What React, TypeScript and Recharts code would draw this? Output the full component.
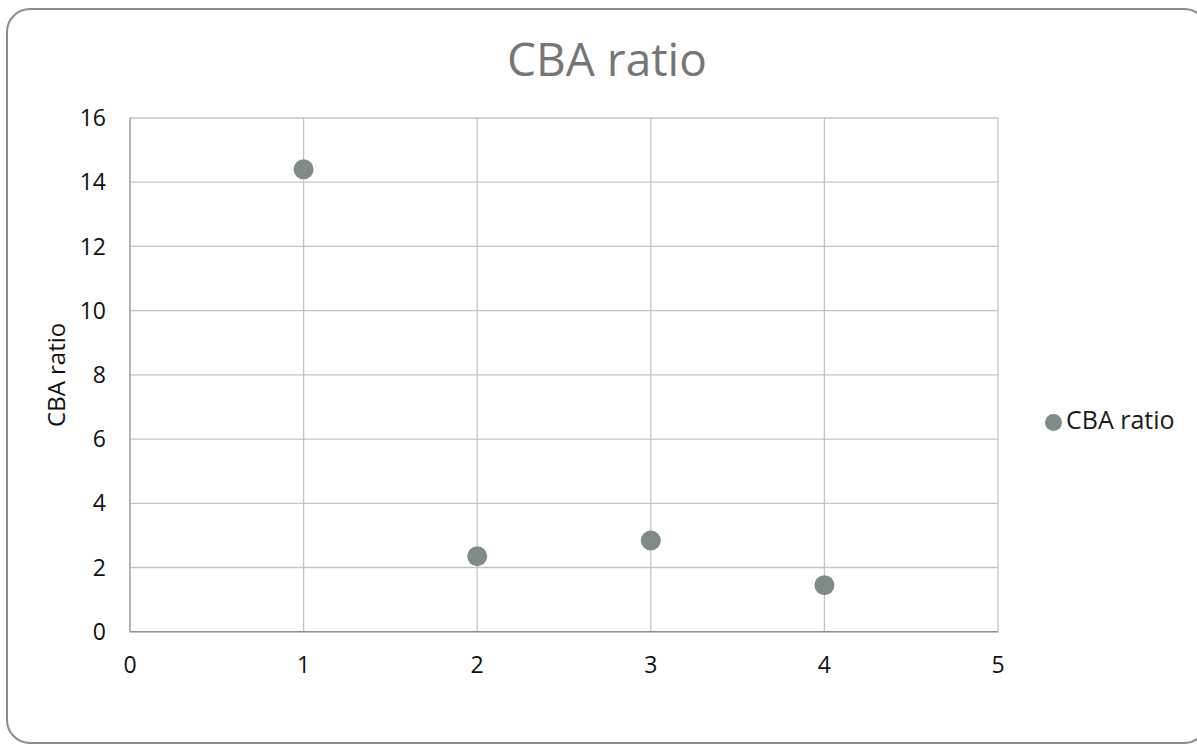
import React from "react";
import {
  ScatterChart,
  Scatter,
  XAxis,
  YAxis,
  CartesianGrid,
  Legend,
} from "recharts";

// CBA ratio per option
const optionIndex = [1, 2, 3, 4];
const cbaRatio = [14.4, 2.35, 2.84, 1.45];

const xTicks = [0, 1, 2, 3, 4, 5];
const yTicks = [0, 2, 4, 6, 8, 10, 12, 14, 16];

const seriesName = "CBA ratio";
const titleText = "CBA ratio";
const yAxisTitle = "CBA ratio";

const points = optionIndex.map((x, i) => ({ x, y: cbaRatio[i] }));

const FONT = "'Open Sans', sans-serif";
const MARKER = "#7F8B89";

const Dot = (props: any) => {
  const { cx, cy } = props;
  return <circle cx={cx} cy={cy} r={10} fill={MARKER} />;
};

export default function App() {
  return (
    <div
      style={{
        position: "absolute",
        left: 0,
        top: 0,
        width: 1197,
        height: 745,
        overflow: "hidden",
        background: "#ffffff",
        fontFamily: FONT,
      }}
    >
      <div
        style={{
          position: "absolute",
          left: 6,
          top: 8,
          width: 1202,
          height: 736,
          border: "2px solid #8c8c8c",
          borderRadius: 24,
          boxSizing: "border-box",
        }}
      />
      <div
        style={{
          position: "absolute",
          left: 6,
          width: 1202,
          top: 35,
          textAlign: "center",
          fontSize: 46,
          lineHeight: "46px",
          color: "#767676",
          fontFamily: FONT,
        }}
      >
        {titleText}
      </div>
      <div style={{ position: "absolute", left: 0, top: 0 }}>
        <ScatterChart
          width={1197}
          height={745}
          margin={{ top: 118, right: 199, bottom: 0, left: 0 }}
        >
          <CartesianGrid stroke="#c4c4c4" strokeWidth={1.3} />
          <XAxis
            type="number"
            dataKey="x"
            domain={[0, 5]}
            ticks={xTicks}
            interval={0}
            height={113.3}
            tickLine={false}
            tickSize={0}
            tickMargin={25}
            stroke="#8f8f8f"
            strokeWidth={1.6}
            tick={{ fill: "#111111", fontSize: 23, fontFamily: FONT }}
          />
          <YAxis
            type="number"
            dataKey="y"
            domain={[0, 16]}
            ticks={yTicks}
            interval={0}
            width={130}
            tickLine={false}
            tickSize={0}
            tickMargin={24}
            stroke="#ababab"
            strokeWidth={1.5}
            tick={{ fill: "#111111", fontSize: 23, fontFamily: FONT }}
            label={{
              value: yAxisTitle,
              angle: -90,
              position: "center",
              dx: -9,
              fill: "#111111",
              fontSize: 24,
              fontFamily: FONT,
            }}
          />
          <Legend
            layout="vertical"
            align="center"
            verticalAlign="middle"
            iconType="circle"
            iconSize={17}
            wrapperStyle={{
              left: 1045,
              top: 402,
              fontSize: 25,
              fontFamily: FONT,
            }}
            formatter={(value) => (
              <span style={{ color: "#1a1a1a" }}>{value}</span>
            )}
          />
          <Scatter
            name={seriesName}
            data={points}
            fill={MARKER}
            shape={Dot}
            isAnimationActive={false}
          />
        </ScatterChart>
      </div>
    </div>
  );
}
